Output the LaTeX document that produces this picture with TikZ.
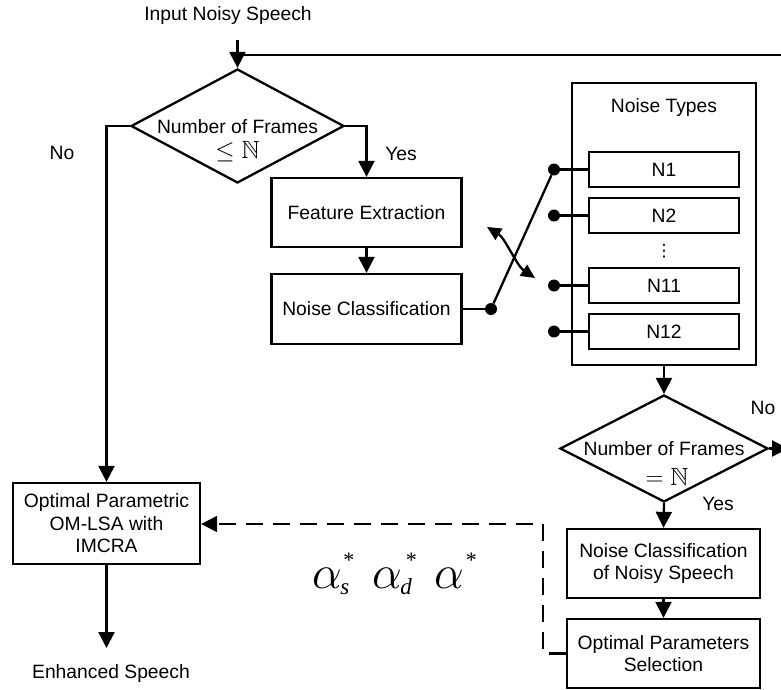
\documentclass[tikz,border=0pt]{standalone}
\usepackage{amssymb}
\usepackage{fontspec}
\setmainfont{Liberation Sans}
\newfontfamily\lserif{Liberation Serif}
\newfontfamily\djv{DejaVu Sans}
\usetikzlibrary{shapes.geometric,arrows.meta}
\newcommand\mainfs{\fontsize{19.3}{22.5}\selectfont}
\newcommand\mfs{\fontsize{24.88}{25}\selectfont}
\newcommand\bigalpha{\scalebox{1.9}{$\alpha$}}
\newcommand\substar[1]{\kern-1.5pt\raisebox{-6pt}{\lserif\itshape\fontsize{23}{23}\selectfont #1}\llap{\raisebox{21pt}{\lserif\fontsize{22}{22}\selectfont *}\kern-5pt}}
\begin{document}
\begin{tikzpicture}[x=1pt,y=-1pt,
  lw/.style={line width=2.3pt},
  box/.style={draw,lw,rectangle,inner sep=0pt,align=center,font=\mainfs},
  dia/.style={draw,lw,diamond,inner sep=0pt},
  lbl/.style={inner sep=0pt,font=\mainfs,align=center},
  arr/.style={lw,-{Triangle[length=16pt,width=16pt]}},
  plain/.style={lw},
  dsh/.style={lw,dash pattern=on 17pt off 10pt},
  dot/.style={circle,fill=black,inner sep=0pt,minimum size=12pt},
  alf/.style={inner sep=0pt,font=\mfs,anchor=base west}]
\clip (0,0) rectangle (781,689);
% text labels
\node[lbl] (tin) at (228,16) {Input Noisy Speech};
\node[lbl] (tout) at (111,673) {Enhanced Speech};
\node[lbl] (tno1) at (62,153) {No};
\node[lbl] (tyes1) at (401,154) {Yes};
\node[lbl] (tno2) at (763,408) {No};
\node[lbl] (tyes2) at (718,504) {Yes};
% decision 1
\node[dia,minimum width=213pt,minimum height=114pt] (d1) at (237.5,126) {};
\node[lbl,anchor=base] (d1t) at (237.5,158.5) {Number of Frames\\[3pt]{\mfs$\leq\mathbb{N}$}};
% boxes
\node[box,minimum width=190pt,minimum height=69pt] (fe) at (366.5,212.5) {Feature Extraction};
\node[box,minimum width=190pt,minimum height=70pt] (nc) at (366.5,309) {Noise Classification};
\node[box,minimum width=184pt,minimum height=282pt] (nt) at (664,224) {};
\node[lbl] (ntt) at (664,108) {Noise Types};
\node[box,minimum width=150pt,minimum height=35pt] (n1) at (664,169.5) {N1};
\node[box,minimum width=150pt,minimum height=35pt] (n2) at (664,215.5) {N2};
\node[inner sep=0pt,font=\djv\fontsize{17}{17}\selectfont] (vd) at (664,251) {⋮};
\node[box,minimum width=150pt,minimum height=35pt] (n11) at (664,285.5) {N11};
\node[box,minimum width=150pt,minimum height=35pt] (n12) at (664,331.5) {N12};
% decision 2
\node[dia,minimum width=208pt,minimum height=107pt] (d2) at (664,448.5) {};
\node[lbl,anchor=base] (d2t) at (664,485) {Number of Frames\\[7pt]{\mfs\hspace*{6pt}$=\mathbb{N}$}};
\node[box,minimum width=193pt,minimum height=69pt] (ncns) at (663.5,563.5) {Noise Classification\\of Noisy Speech};
\node[box,minimum width=193pt,minimum height=69pt] (ops) at (663.5,653.5) {Optimal Parameters\\Selection};
\node[box,minimum width=187pt,minimum height=81pt] (opa) at (106.5,523.5) {Optimal Parametric\\OM-LSA with\\IMCRA};
% switch dots
\node[dot] (sw) at (491,309) {};
\node[dot] (t1) at (554,169.5) {};
\node[dot] (t2) at (554,215.5) {};
\node[dot] (t3) at (554,285.5) {};
\node[dot] (t4) at (554,331.5) {};
% coordinates
\coordinate (cin) at (237.5,40);
\coordinate (cmerge) at (237.5,55);
\coordinate (cloop) at (800,55);
\coordinate (cright) at (788,448.5);
\coordinate (cout) at (106.5,648);
\coordinate (cd1) at (543,653.5);
\coordinate (cd2) at (543,524);
\coordinate (ca) at (487,227);
\coordinate (cb) at (535,278);
% connectors
\draw[arr] (cin) -- (d1.north);
\draw[plain] (cmerge) -- (cloop);
\draw[arr] (d1.west) -| (opa.north);
\draw[arr] (d1.east) -| (fe.north);
\draw[arr] (fe.south) -- (nc.north);
\draw[plain] (nc.east) -- (sw);
\draw[plain] (sw) -- (t1);
\draw[plain] (t1) -- (n1.west);
\draw[plain] (t2) -- (n2.west);
\draw[plain] (t3) -- (n11.west);
\draw[plain] (t4) -- (n12.west);
\draw[lw,{Triangle[length=14pt,width=13pt]}-{Triangle[length=14pt,width=13pt]}] (ca) .. controls (505,238) and (517,266) .. (cb);
\draw[arr] (nt.south) -- (d2.north);
\draw[arr] (d2.east) -- (cright);
\draw[arr] (d2.south) -- (ncns.north);
\draw[arr] (ncns.south) -- (ops.north);
\draw[arr] (opa.south) -- (cout);
\draw[dsh,-{Triangle[length=16pt,width=16pt]}] (ops.west) -- (cd1) -- (cd2) -- (opa.east |- cd2);
% alpha labels
\node[alf] (a1) at (312,588) {\bigalpha\substar{s}};
\node[alf] (a2) at (372,588) {\bigalpha\substar{d}};
\node[alf] (a3) at (434,588) {\bigalpha\rlap{\kern2pt\raisebox{21pt}{\lserif\fontsize{22}{22}\selectfont *}}};
\end{tikzpicture}
\end{document}
